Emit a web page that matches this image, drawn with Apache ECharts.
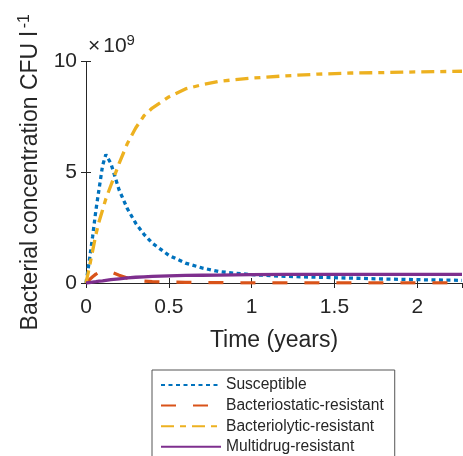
<!DOCTYPE html>
<html>
<head>
<meta charset="utf-8">
<script src="https://cdn.jsdelivr.net/npm/echarts@6/dist/echarts.min.js"></script>
<style>
html,body{margin:0;padding:0;background:#fff;}
#c{width:463px;height:456px;}
</style>
</head>
<body>
<div id="c"></div>
<script>
// Time in years
const time = [0, 0.02, 0.04, 0.06, 0.08, 0.1, 0.12, 0.15, 0.2, 0.25, 0.3, 0.35, 0.4, 0.5, 0.6, 0.7, 0.8, 0.9, 1.0, 1.2, 1.4, 1.6, 1.8, 2.0, 2.27];
// Concentrations in units of 1e9 CFU/l
const susceptible = [0, 1.0, 2.1, 3.3, 4.3, 5.3, 5.8, 5.4, 4.2, 3.35, 2.7, 2.2, 1.8, 1.25, 0.9, 0.68, 0.52, 0.44, 0.38, 0.3, 0.26, 0.22, 0.18, 0.15, 0.12];
const bacteriostatic = [0, 0.15, 0.28, 0.4, 0.48, 0.53, 0.55, 0.5, 0.35, 0.22, 0.14, 0.09, 0.06, 0.04, 0.03, 0.02, 0.02, 0.01, 0.01, 0.01, 0.01, 0.01, 0.01, 0.01, 0.01];
const bacteriolytic = [0, 0.7, 1.45, 2.2, 2.8, 3.3, 3.8, 4.4, 5.4, 6.3, 7.0, 7.55, 7.9, 8.4, 8.76, 8.95, 9.1, 9.18, 9.25, 9.35, 9.43, 9.48, 9.5, 9.53, 9.56];
const multidrug = [0, 0.02, 0.04, 0.06, 0.085, 0.1, 0.12, 0.15, 0.19, 0.23, 0.26, 0.28, 0.3, 0.32, 0.34, 0.35, 0.36, 0.37, 0.38, 0.385, 0.39, 0.39, 0.39, 0.39, 0.39];
const seriesNames = ['Susceptible', 'Bacteriostatic-resistant', 'Bacteriolytic-resistant', 'Multidrug-resistant'];
const xMin = 0, xMax = 2.27, xStep = 0.5;
const yMin = 0, yMax = 10, yStep = 5;

const pair = (vals) => time.map((t, i) => [t, vals[i]]);
const dark = '#262626';
const fontFam = '"Liberation Sans", Arial, Helvetica, sans-serif';
const tickStyle = {show: true, inside: true, length: 5, lineStyle: {color: dark, width: 1}};

const chart = echarts.init(document.getElementById('c'), null, {renderer: 'canvas'});
chart.setOption({
  animation: false,
  backgroundColor: '#fff',
  grid: {left: 86, top: 61.5, right: 1, bottom: 173, containLabel: false},
  graphic: [{
    type: 'text', left: 88, top: 33,
    style: {
      rich: {
        a: {fontSize: 21, fontFamily: fontFam, fill: dark},
        x: {fontSize: 21, fontFamily: fontFam, fill: dark, padding: [0, 3, 0, 0]},
        s: {fontSize: 15, fontFamily: fontFam, fill: dark, verticalAlign: 'top', padding: [0, 0, 12, 0]}
      },
      text: '{x|\u00d7}{a|10}{s|9}'
    }
  }],
  legend: {
    orient: 'vertical', left: 152, top: 370, height: 110,
    padding: [7, 11, 14, 8],
    itemWidth: 60, itemHeight: 14, itemGap: 4.6,
    borderColor: '#555', borderWidth: 1, borderRadius: 0,
    itemStyle: {opacity: 0},
    textStyle: {fontSize: 15.6, fontFamily: fontFam, color: dark},
    data: seriesNames
  },
  xAxis: [{
    type: 'value', min: xMin, max: xMax, interval: xStep,
    position: 'bottom',
    name: 'Time (years)', nameLocation: 'middle', nameGap: 46,
    nameTextStyle: {fontSize: 23, fontFamily: fontFam, color: dark},
    axisLine: {show: true, onZero: false, lineStyle: {color: '#8c8c8c', width: 1}},
    axisLabel: {fontSize: 21, fontFamily: fontFam, color: dark, margin: 14, showMaxLabel: false},
    axisTick: tickStyle,
    splitLine: {show: false}
  }, {
    type: 'value', min: xMin, max: xMax, interval: xStep, position: 'top',
    axisLine: {show: true, lineStyle: {color: dark, width: 1}},
    axisLabel: {show: false},
    axisTick: tickStyle,
    splitLine: {show: false}
  }],
  yAxis: [{
    type: 'value', min: yMin, max: yMax, interval: yStep,
    position: 'left',
    name: '{a|Bacterial concentration CFU l}{s|-1}',
    nameLocation: 'middle', nameGap: 41, nameRotate: 90,
    nameTextStyle: {
      rich: {
        a: {fontSize: 23, fontFamily: fontFam, color: dark},
        s: {fontSize: 16, fontFamily: fontFam, color: dark, verticalAlign: 'top', padding: [0, 0, 12, 3]}
      }
    },
    axisLine: {show: true, lineStyle: {color: dark, width: 1}},
    axisLabel: {fontSize: 21, fontFamily: fontFam, color: dark, margin: 9},
    axisTick: tickStyle,
    splitLine: {show: false}
  }, {
    type: 'value', min: yMin, max: yMax, interval: yStep, position: 'right',
    axisLine: {show: true, lineStyle: {color: dark, width: 1}},
    axisLabel: {show: false},
    axisTick: tickStyle,
    splitLine: {show: false}
  }],
  series: [
    {name: seriesNames[0], type: 'line', data: pair(susceptible), showSymbol: false, symbol: 'none',
      lineStyle: {color: '#0072BD', width: 3.3, type: [4, 3.5], cap: 'butt'}, itemStyle: {color: '#0072BD'}},
    {name: seriesNames[1], type: 'line', data: pair(bacteriostatic), showSymbol: false, symbol: 'none',
      lineStyle: {color: '#D95319', width: 3.3, type: [15, 17], cap: 'butt'}, itemStyle: {color: '#D95319'}},
    {name: seriesNames[2], type: 'line', data: pair(bacteriolytic), showSymbol: false, symbol: 'none',
      lineStyle: {color: '#EDB120', width: 3.3, type: [13, 6, 6, 6], cap: 'butt'}, itemStyle: {color: '#EDB120'}},
    {name: seriesNames[3], type: 'line', data: pair(multidrug), showSymbol: false, symbol: 'none',
      lineStyle: {color: '#7E2F8E', width: 3.3, type: 'solid'}, itemStyle: {color: '#7E2F8E'}}
  ]
});
</script>
</body>
</html>
